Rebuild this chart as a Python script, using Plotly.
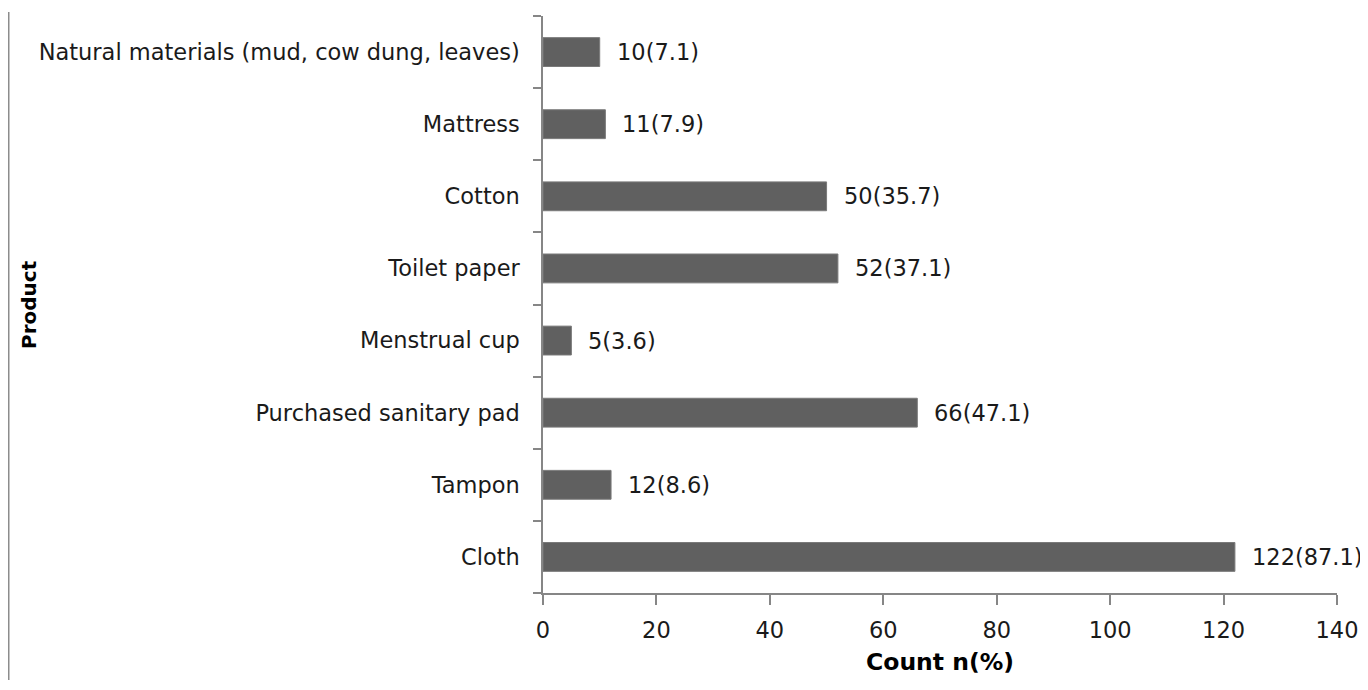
import plotly.graph_objects as go

products = ["Cloth", "Tampon", "Purchased sanitary pad", "Menstrual cup",
            "Toilet paper", "Cotton", "Mattress",
            "Natural materials (mud, cow dung, leaves)"]
counts = [122, 12, 66, 5, 52, 50, 11, 10]
percents = [87.1, 8.6, 47.1, 3.6, 37.1, 35.7, 7.9, 7.1]
x_ticks = [0, 20, 40, 60, 80, 100, 120, 140]

labels = [f"{c}({p})" for c, p in zip(counts, percents)]
FONT = "DejaVu Sans"
AX = "#868686"
TXT = "#1a1a1a"
FS = 22.5

W, H = 1360, 672
L, R, T, B = 535, 31, 8, 87
PW = W - L - R
PH = H - T - B


def px(xfig):
    return (xfig - L) / PW


def py(yfig):
    return (H - B - yfig) / PH


fig = go.Figure()
fig.add_trace(go.Bar(
    y=products, x=counts, orientation="h",
    marker=dict(color="#606060", line=dict(color="#7a7a7a", width=1)),
    width=0.4, showlegend=False, hoverinfo="skip",
))
for p, c, lab in zip(products, counts, labels):
    fig.add_annotation(x=c, y=p, text=lab, showarrow=False, xanchor="left",
                       xshift=15, font=dict(family=FONT, size=FS, color=TXT))

fig.update_layout(
    width=W, height=H,
    margin=dict(l=L, r=R, t=T, b=B, autoexpand=False),
    paper_bgcolor="white", plot_bgcolor="white",
    font=dict(family=FONT, size=FS, color=TXT),
    bargap=0.6,
)
fig.update_xaxes(
    range=[0, 140], tickvals=x_ticks, showgrid=False, zeroline=False,
    showline=True, linecolor=AX, linewidth=1.5, automargin=False,
    ticks="outside", ticklen=10, tickcolor=AX, tickwidth=1.5,
    ticklabelstandoff=6,
)
fig.update_yaxes(
    categoryorder="array", categoryarray=products,
    showgrid=False, zeroline=False, automargin=False,
    showline=True, linecolor=AX, linewidth=1.5,
    ticks="outside", ticklen=8, tickcolor=AX, tickwidth=1.5, tickson="boundaries",
    ticklabelstandoff=17,
)
# axis titles
fig.add_annotation(text="<b>Count n(%)</b>", xref="paper", yref="paper",
                   x=0.5, y=py(654), xanchor="center", yanchor="middle",
                   showarrow=False, font=dict(family=FONT, size=23.5, color="#000"))
fig.add_annotation(text="<b>Product</b>", xref="paper", yref="paper",
                   x=px(20.5), y=0.5, textangle=-90, xanchor="center", yanchor="middle",
                   showarrow=False, font=dict(family=FONT, size=20, color="#000"))
# left frame border line
fig.add_shape(type="line", xref="paper", yref="paper",
              x0=px(0.75), x1=px(0.75), y0=py(4), y1=py(H + 10),
              line=dict(color="#8c8c8c", width=1.5))

fig.write_html("out.html")
